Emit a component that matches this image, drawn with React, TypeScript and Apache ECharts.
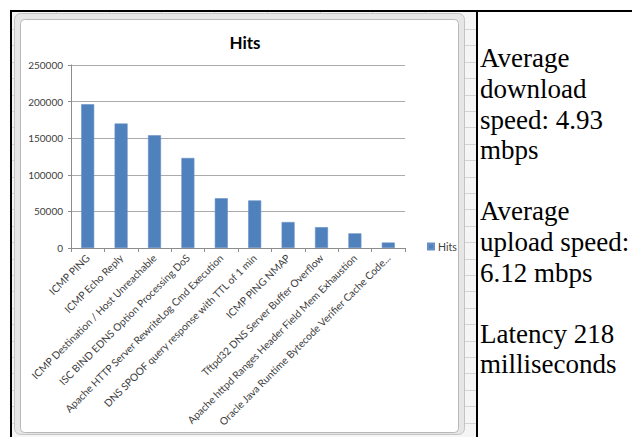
import React, { useEffect, useRef } from "react";
import * as echarts from "echarts";

// Alert signatures and how often each one fired
const categories = [
  "ICMP PING",
  "ICMP Echo Reply",
  "ICMP Destination / Host Unreachable",
  "ISC BIND EDNS Option Processing DoS",
  "Apache HTTP Server RewriteLog Cmd Execution",
  "DNS SPOOF query response with TTL of 1 min",
  "ICMP PING NMAP",
  "Tftpd32 DNS Server Buffer Overflow",
  "Apache httpd Ranges Header Field Mem Exhaustion",
  "Oracle Java Runtime Bytecode Verifier Cache Code...",
];
const hits = [196500, 170000, 154000, 123000, 68000, 65000, 35500, 28500, 20000, 7500];

const yMin = 0;
const yMax = 250000;
const yStep = 50000;

const seriesName = "Hits";

// Network summary shown beside the chart, one array per paragraph
const downloadNote = ["Average", "download", "speed: 4.93", "mbps"];
const uploadNote = ["Average", "upload speed:", "6.12 mbps"];
const latencyNote = ["Latency 218", "milliseconds"];

const W = 632;
const H = 437;

export default function App() {
  const ref = useRef<HTMLDivElement>(null);

  useEffect(() => {
    if (!ref.current) return;
    const chart = echarts.init(ref.current, undefined, { renderer: "svg" });

    const font = "Lato";

    // paragraphs separated by an empty line
    const noteText = [downloadNote, uploadNote, latencyNote]
      .map((p) => p.join("\n"))
      .join("\n\n");

    // spreadsheet grid lines peeking around the chart object
    const sheetLines: any[] = [];
    for (let y = 29; y < H; y += 16.4) {
      sheetLines.push({
        type: "line",
        z: -9,
        shape: { x1: 464, y1: Math.round(y) + 0.5, x2: 476, y2: Math.round(y) + 0.5 },
        style: { stroke: "#d4d4d4", lineWidth: 1 },
      });
      sheetLines.push({
        type: "line",
        z: -9,
        shape: { x1: 12, y1: Math.round(y) + 0.5, x2: 15, y2: Math.round(y) + 0.5 },
        style: { stroke: "#d4d4d4", lineWidth: 1 },
      });
    }
    for (let x = 56; x < 470; x += 52.7) {
      sheetLines.push({
        type: "line",
        z: -9,
        shape: { x1: Math.round(x) + 0.5, y1: 12, x2: Math.round(x) + 0.5, y2: 14 },
        style: { stroke: "#d4d4d4", lineWidth: 1 },
      });
    }

    chart.setOption({
      animation: false,
      backgroundColor: "#ffffff",
      title: [
        {
          text: "Hits",
          left: 240,
          top: 29,
          textAlign: "center",
          textStyle: { fontFamily: font, fontWeight: "bold", fontSize: 17, color: "#000" },
        },
        {
          text: noteText,
          left: 480,
          top: 43,
          padding: 0,
          textStyle: {
            fontFamily: "serif",
            fontWeight: "normal",
            fontSize: 27,
            lineHeight: 30.6,
            color: "#000",
          },
        },
      ],
      legend: {
        left: 422,
        top: 236,
        icon: "rect",
        itemWidth: 6,
        itemHeight: 6,
        itemGap: 4,
        data: [seriesName],
        textStyle: { fontFamily: font, fontSize: 10.5, color: "#404040", padding: [0, 0, 0, -1] },
      },
      grid: { left: 71, top: 65, width: 334, height: 183, containLabel: false },
      xAxis: {
        type: "category",
        data: categories,
        axisLine: { lineStyle: { color: "#8c8c8c", width: 1 } },
        axisTick: { show: true, length: 4, lineStyle: { color: "#8c8c8c" } },
        axisLabel: {
          interval: 0,
          rotate: 45,
          margin: 8,
          fontFamily: font,
          fontSize: 10.3,
          color: "#404040",
        },
      },
      yAxis: {
        type: "value",
        min: yMin,
        max: yMax,
        interval: yStep,
        axisLine: { show: true, lineStyle: { color: "#8c8c8c", width: 1 } },
        axisTick: { show: true, length: 3, lineStyle: { color: "#8c8c8c" } },
        splitLine: { lineStyle: { color: "#ababab", width: 1 } },
        axisLabel: {
          margin: 8,
          fontFamily: font,
          fontSize: 10,
          color: "#404040",
          formatter: (v: number) => String(v),
        },
      },
      series: [
        {
          name: seriesName,
          type: "bar",
          data: hits,
          barWidth: 13,
          itemStyle: { color: "#4f81bd", borderColor: "#6890c6", borderWidth: 0.6 },
        },
      ],
      graphic: [
        // spreadsheet background behind the chart object
        {
          type: "rect",
          z: -10,
          shape: { x: 12, y: 12, width: 465, height: H - 12 },
          style: { fill: "#f5f5f5" },
        },
        ...sheetLines,
        // chart object frame
        {
          type: "rect",
          z: -8,
          shape: { x: 14.5, y: 13.5, width: 450, height: 421, r: 6 },
          style: { fill: "#e6e6e6", stroke: "#c4c4c4", lineWidth: 1 },
        },
        {
          type: "rect",
          z: -7,
          shape: { x: 20.5, y: 19.5, width: 438, height: 413, r: 4 },
          style: { fill: "#ffffff", stroke: "#b8b8b8", lineWidth: 1 },
        },
        // table borders
        {
          type: "rect",
          z: 10,
          shape: { x: 10, y: 10, width: W - 10, height: 2 },
          style: { fill: "#000" },
        },
        {
          type: "rect",
          z: 10,
          shape: { x: 10, y: 10, width: 2, height: H - 10 },
          style: { fill: "#000" },
        },
        {
          type: "rect",
          z: 10,
          shape: { x: 476, y: 10, width: 2, height: H - 10 },
          style: { fill: "#000" },
        },
      ],
    });

    return () => chart.dispose();
  }, []);

  return (
    <div
      ref={ref}
      style={{ position: "absolute", left: 0, top: 0, width: W, height: H }}
    />
  );
}
